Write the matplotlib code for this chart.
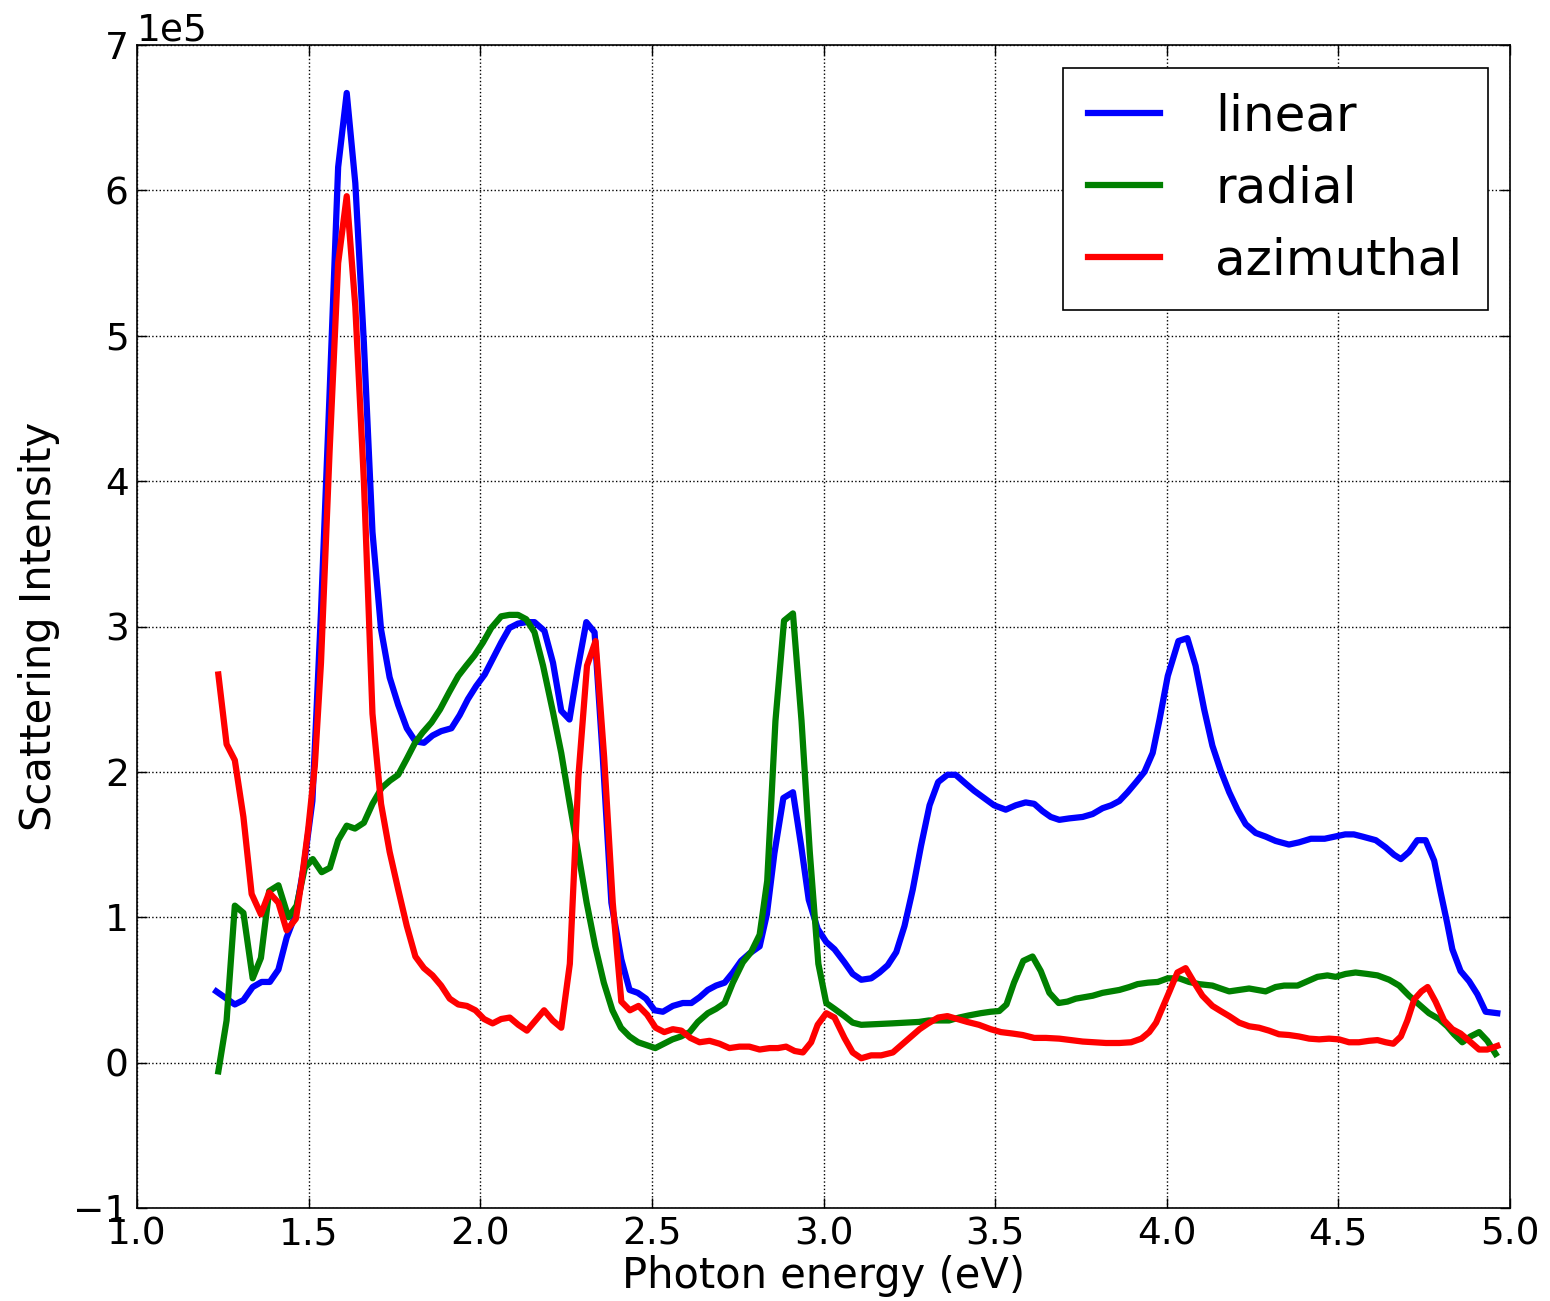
import numpy as np
import matplotlib
matplotlib.use("Agg")
import matplotlib.pyplot as plt

SCALE = 1e5

linear_E = [1.231, 1.285, 1.310, 1.337, 1.363, 1.387, 1.412, 1.436, 1.462, 1.486,
            1.511, 1.536, 1.561, 1.586, 1.611, 1.636, 1.661, 1.686, 1.711, 1.736,
            1.761, 1.786, 1.811, 1.836, 1.861, 1.886, 1.916, 1.940, 1.964, 1.988,
            2.013, 2.037, 2.061, 2.085, 2.110, 2.134, 2.158, 2.187, 2.212, 2.236,
            2.260, 2.284, 2.309, 2.333, 2.357, 2.382, 2.411, 2.435, 2.459, 2.483,
            2.508, 2.532, 2.561, 2.590, 2.615, 2.639, 2.663, 2.687, 2.712, 2.736,
            2.760, 2.784, 2.814, 2.835, 2.857, 2.883, 2.911, 2.935, 2.957, 2.983,
            3.008, 3.032, 3.061, 3.085, 3.110, 3.139, 3.163, 3.187, 3.212, 3.236,
            3.260, 3.284, 3.309, 3.334, 3.361, 3.385, 3.414, 3.439, 3.468, 3.497,
            3.531, 3.560, 3.589, 3.614, 3.638, 3.662, 3.687, 3.716, 3.755, 3.784,
            3.813, 3.838, 3.862, 3.886, 3.911, 3.935, 3.959, 3.979, 4.003, 4.034,
            4.060, 4.084, 4.109, 4.133, 4.157, 4.182, 4.206, 4.230, 4.259, 4.288,
            4.317, 4.356, 4.385, 4.420, 4.460, 4.490, 4.520, 4.545, 4.570, 4.609,
            4.638, 4.662, 4.682, 4.706, 4.730, 4.754, 4.779, 4.798, 4.817, 4.832,
            4.856, 4.881, 4.905, 4.929, 4.963]
linear_I = [0.49, 0.40, 0.43, 0.52, 0.555, 0.555, 0.64, 0.86, 1.02, 1.35,
            1.80, 3.10, 4.60, 6.16, 6.67, 6.05, 4.95, 3.65, 2.98, 2.65,
            2.46, 2.30, 2.21, 2.20, 2.25, 2.28, 2.30, 2.39, 2.50, 2.59,
            2.67, 2.78, 2.89, 2.99, 3.02, 3.03, 3.03, 2.97, 2.75, 2.42,
            2.36, 2.71, 3.03, 2.96, 2.10, 1.10, 0.71, 0.50, 0.48, 0.44,
            0.36, 0.35, 0.39, 0.41, 0.41, 0.45, 0.50, 0.53, 0.55, 0.62,
            0.70, 0.75, 0.80, 1.02, 1.44, 1.82, 1.86, 1.49, 1.12, 0.92,
            0.83, 0.78, 0.69, 0.61, 0.57, 0.58, 0.62, 0.67, 0.76, 0.94,
            1.19, 1.49, 1.77, 1.93, 1.98, 1.98, 1.92, 1.87, 1.82, 1.77,
            1.74, 1.77, 1.79, 1.78, 1.73, 1.69, 1.67, 1.68, 1.69, 1.71,
            1.75, 1.77, 1.80, 1.86, 1.93, 2.00, 2.13, 2.36, 2.66, 2.90,
            2.92, 2.73, 2.43, 2.18, 2.01, 1.86, 1.74, 1.64, 1.58, 1.555,
            1.525, 1.50, 1.515, 1.54, 1.54, 1.555, 1.57, 1.57, 1.555, 1.53,
            1.48, 1.43, 1.40, 1.45, 1.53, 1.53, 1.39, 1.17, 0.96, 0.78,
            0.63, 0.56, 0.47, 0.35, 0.34]

radial_E = [1.237, 1.261, 1.285, 1.310, 1.337, 1.361, 1.385, 1.412, 1.441, 1.465,
            1.489, 1.512, 1.538, 1.562, 1.586, 1.611, 1.635, 1.661, 1.686, 1.713,
            1.737, 1.761, 1.786, 1.810, 1.832, 1.858, 1.883, 1.910, 1.936, 1.959,
            1.983, 2.008, 2.032, 2.061, 2.085, 2.110, 2.134, 2.158, 2.183, 2.212,
            2.236, 2.260, 2.285, 2.310, 2.335, 2.360, 2.385, 2.410, 2.435, 2.460,
            2.485, 2.510, 2.535, 2.560, 2.585, 2.610, 2.634, 2.663, 2.687, 2.712,
            2.736, 2.765, 2.789, 2.814, 2.836, 2.860, 2.885, 2.911, 2.936, 2.960,
            2.985, 3.008, 3.032, 3.061, 3.085, 3.110, 3.200, 3.278, 3.307, 3.337,
            3.366, 3.395, 3.424, 3.458, 3.487, 3.512, 3.533, 3.555, 3.582, 3.609,
            3.633, 3.658, 3.685, 3.711, 3.735, 3.760, 3.784, 3.813, 3.838, 3.862,
            3.891, 3.915, 3.945, 3.974, 4.003, 4.036, 4.065, 4.094, 4.133, 4.157,
            4.182, 4.211, 4.240, 4.264, 4.288, 4.317, 4.342, 4.381, 4.410, 4.439,
            4.468, 4.492, 4.521, 4.550, 4.584, 4.614, 4.648, 4.677, 4.706, 4.735,
            4.764, 4.793, 4.817, 4.837, 4.861, 4.885, 4.910, 4.934, 4.958]
radial_I = [-0.06, 0.29, 1.08, 1.03, 0.58, 0.72, 1.18, 1.22, 1.00, 1.08,
            1.34, 1.40, 1.31, 1.34, 1.53, 1.63, 1.61, 1.65, 1.78, 1.89,
            1.94, 1.98, 2.09, 2.20, 2.27, 2.34, 2.43, 2.55, 2.66, 2.73,
            2.80, 2.89, 2.99, 3.07, 3.08, 3.08, 3.05, 2.96, 2.73, 2.41,
            2.13, 1.79, 1.45, 1.10, 0.80, 0.55, 0.36, 0.24, 0.18, 0.14,
            0.12, 0.10, 0.13, 0.16, 0.18, 0.21, 0.28, 0.34, 0.37, 0.41,
            0.55, 0.69, 0.76, 0.88, 1.25, 2.35, 3.04, 3.09, 2.35, 1.45,
            0.68, 0.41, 0.37, 0.32, 0.275, 0.26, 0.27, 0.28, 0.29, 0.29,
            0.29, 0.31, 0.325, 0.34, 0.35, 0.355, 0.40, 0.55, 0.70, 0.73,
            0.63, 0.48, 0.41, 0.42, 0.44, 0.45, 0.46, 0.48, 0.49, 0.50,
            0.52, 0.54, 0.55, 0.555, 0.58, 0.58, 0.555, 0.54, 0.53, 0.51,
            0.49, 0.50, 0.51, 0.50, 0.49, 0.52, 0.53, 0.53, 0.56, 0.59,
            0.60, 0.59, 0.61, 0.62, 0.61, 0.60, 0.57, 0.53, 0.46, 0.40,
            0.34, 0.30, 0.25, 0.195, 0.14, 0.18, 0.21, 0.15, 0.06]

azimuthal_E = [1.237, 1.261, 1.285, 1.310, 1.334, 1.361, 1.385, 1.412, 1.436, 1.463,
               1.480, 1.499, 1.518, 1.536, 1.561, 1.586, 1.611, 1.636, 1.661, 1.686,
               1.711, 1.736, 1.761, 1.786, 1.811, 1.836, 1.861, 1.886, 1.911, 1.936,
               1.961, 1.986, 2.011, 2.036, 2.061, 2.086, 2.111, 2.136, 2.161, 2.186,
               2.211, 2.236, 2.261, 2.286, 2.311, 2.336, 2.361, 2.386, 2.411, 2.436,
               2.461, 2.486, 2.511, 2.536, 2.561, 2.586, 2.612, 2.639, 2.668, 2.697,
               2.726, 2.755, 2.784, 2.814, 2.843, 2.867, 2.891, 2.916, 2.940, 2.964,
               2.983, 3.008, 3.032, 3.061, 3.085, 3.110, 3.139, 3.168, 3.202, 3.241,
               3.280, 3.305, 3.334, 3.361, 3.390, 3.419, 3.453, 3.487, 3.517, 3.551,
               3.580, 3.614, 3.648, 3.687, 3.721, 3.755, 3.789, 3.823, 3.862, 3.896,
               3.926, 3.949, 3.969, 3.988, 4.008, 4.031, 4.055, 4.080, 4.104, 4.133,
               4.157, 4.182, 4.211, 4.240, 4.269, 4.298, 4.327, 4.356, 4.385, 4.415,
               4.444, 4.473, 4.502, 4.531, 4.560, 4.589, 4.614, 4.638, 4.660, 4.682,
               4.701, 4.721, 4.742, 4.760, 4.783, 4.808, 4.832, 4.856, 4.881, 4.910,
               4.934, 4.963]
azimuthal_I = [2.67, 2.19, 2.08, 1.69, 1.16, 1.02, 1.17, 1.10, 0.91, 0.99,
               1.26, 1.61, 2.04, 2.75, 4.20, 5.50, 5.96, 5.20, 4.00, 2.40,
               1.78, 1.45, 1.19, 0.94, 0.73, 0.65, 0.60, 0.53, 0.44, 0.40,
               0.39, 0.36, 0.30, 0.27, 0.30, 0.31, 0.26, 0.22, 0.29, 0.36,
               0.29, 0.24, 0.68, 1.97, 2.73, 2.90, 2.10, 1.10, 0.42, 0.36,
               0.39, 0.33, 0.24, 0.21, 0.23, 0.22, 0.17, 0.14, 0.15, 0.13,
               0.10, 0.11, 0.11, 0.09, 0.10, 0.10, 0.11, 0.08, 0.07, 0.14,
               0.26, 0.34, 0.31, 0.17, 0.07, 0.03, 0.05, 0.05, 0.07, 0.15,
               0.23, 0.27, 0.31, 0.32, 0.30, 0.28, 0.26, 0.23, 0.21, 0.20,
               0.19, 0.17, 0.17, 0.165, 0.155, 0.145, 0.14, 0.135, 0.135, 0.14,
               0.165, 0.21, 0.275, 0.38, 0.49, 0.62, 0.65, 0.55, 0.46, 0.39,
               0.355, 0.32, 0.275, 0.25, 0.24, 0.22, 0.195, 0.19, 0.18, 0.165,
               0.16, 0.165, 0.16, 0.14, 0.14, 0.15, 0.155, 0.14, 0.13, 0.18,
               0.29, 0.435, 0.49, 0.52, 0.42, 0.29, 0.23, 0.20, 0.15, 0.09,
               0.09, 0.115]

series_labels = ["linear", "radial", "azimuthal"]
series_colors = ["#0000ff", "#008000", "#ff0000"]

fig = plt.figure(figsize=(15.5, 13.01), dpi=100)
fig.patch.set_facecolor("white")
ax = fig.add_axes([137 / 1550, 1 - 1208 / 1301, (1510 - 137) / 1550, (1208 - 45) / 1301])

data = [(linear_E, linear_I), (radial_E, radial_I), (azimuthal_E, azimuthal_I)]
for (E, I), lab, col in zip(data, series_labels, series_colors):
    ax.plot(E, np.array(I) * SCALE, color=col, lw=4.5, label=lab)

ax.set_xlim(1.0, 5.0)
ax.set_ylim(-1e5, 7e5)
ax.set_xticks(np.arange(1.0, 5.01, 0.5))
ax.set_yticks(np.arange(-1e5, 7.01e5, 1e5))
ax.ticklabel_format(style="sci", axis="y", scilimits=(0, 0))
ax.grid(True, color="k", linestyle=":", linewidth=1)
ax.tick_params(direction="in", top=True, right=True, length=7, width=1,
               labelsize=27, pad=6)
for s in ax.spines.values():
    s.set_linewidth(1.2)
ax.yaxis.get_offset_text().set_fontsize(27)
ax.set_xlabel("Photon energy (eV)", fontsize=30, labelpad=2)
ax.set_ylabel("Scattering Intensity", fontsize=30, labelpad=10)

leg = ax.legend(loc="upper right", fontsize=36, handlelength=1.45,
                handletextpad=1.1, labelspacing=0.48, borderpad=0.5,
                borderaxespad=0.45, fancybox=False, framealpha=1)
leg.get_frame().set_edgecolor("k")
leg.get_frame().set_linewidth(1.2)

fig.savefig("out.png", dpi=100, facecolor="white")
